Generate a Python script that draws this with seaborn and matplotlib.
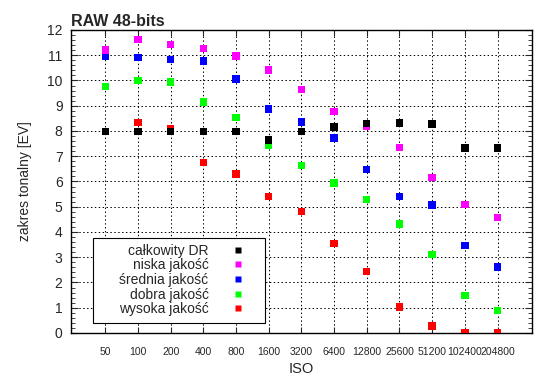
import pandas as pd
import seaborn as sns
import matplotlib.pyplot as plt
from matplotlib.ticker import MultipleLocator
from matplotlib.patches import Rectangle

# dane
iso = ['50', '100', '200', '400', '800', '1600', '3200', '6400',
       '12800', '25600', '51200', '102400', '204800']
calkowity = [7.97, 7.97, 7.97, 7.97, 7.97, 7.64, 7.97, 8.16, 8.30, 8.32, 8.28, 7.33, 7.33]
niska = [11.20, 11.63, 11.42, 11.26, 10.97, 10.42, 9.65, 8.77, 8.17, 7.34, 6.15, 5.10, 4.58]
srednia = [10.97, 10.92, 10.83, 10.77, 10.06, 8.87, 8.36, 7.72, 6.47, 5.41, 5.07, 3.47, 2.61]
dobra = [9.77, 10.01, 9.94, 9.15, 8.53, 7.42, 6.63, 5.94, 5.28, 4.32, 3.12, 1.48, 0.88]
wysoka = [7.97, 8.34, 8.10, 6.76, 6.30, 5.41, 4.82, 3.54, 2.43, 1.03, 0.28, 0.0, 0.0]

serie = {'całkowity DR': calkowity, 'niska jakość': niska, 'średnia jakość': srednia,
         'dobra jakość': dobra, 'wysoka jakość': wysoka}
kolory = {'całkowity DR': '#000000', 'niska jakość': '#ff00ff', 'średnia jakość': '#0000ff',
          'dobra jakość': '#00ff00', 'wysoka jakość': '#ff0000'}

df = pd.concat([pd.DataFrame({'ISO': iso, 'EV': v, 'seria': k}) for k, v in serie.items()])
# rysujemy od tyłu, żeby czarne były na wierzchu
df_plot = pd.concat([df[df.seria == k] for k in reversed(list(serie))])

sns.set_style('ticks')
plt.rcParams['font.family'] = ['Liberation Sans', 'DejaVu Sans']

fig = plt.figure(figsize=(5.5, 3.89), dpi=100)
ax = fig.add_axes([0.129, 0.144, 0.838, 0.779])

sns.scatterplot(data=df_plot, x='ISO', y='EV', hue='seria', hue_order=list(serie),
                palette=kolory, marker='s', s=28, edgecolor='none', ax=ax, zorder=3)

ax.set_xlim(-1.05, 13.05)
ax.set_ylim(0, 12)
ax.yaxis.set_major_locator(MultipleLocator(1))
ax.yaxis.set_minor_locator(MultipleLocator(0.2))
ax.tick_params(axis='both', which='both', direction='in', top=True, right=True)
ax.tick_params(axis='y', which='major', length=5, labelsize=10, pad=6)
ax.tick_params(axis='y', which='minor', length=3)
ax.tick_params(axis='x', which='major', length=4, labelsize=7.5, pad=10)
ax.grid(True, color='black', linestyle=(0, (1.5, 2.5)), linewidth=0.7)
for s in ax.spines.values():
    s.set_linewidth(1)
    s.set_color('black')

ax.set_xlabel('ISO', fontsize=10.5, labelpad=4)
ax.set_ylabel('zakres tonalny [EV]', fontsize=10, labelpad=11)
ax.set_title('RAW 48-bits', loc='left', fontsize=11.5, fontweight='bold', pad=3)

# ramka legendy
ax.add_patch(Rectangle((0.048, 0.033), 0.373, 0.2815, transform=ax.transAxes,
                       facecolor='white', edgecolor='black', linewidth=0.8, zorder=4))
leg = ax.legend(loc='center right', bbox_to_anchor=(0.377, 0.175), markerfirst=False,
                fontsize=10, frameon=False, labelspacing=0.05, handletextpad=1.6,
                borderpad=0, borderaxespad=0, handlelength=1.0, markerscale=0.85)
leg.set_zorder(5)
# etykiety wyrównane do prawej
for kol in leg._legend_handle_box.get_children():
    kol.align = 'right'

plt.savefig('out.png', dpi=100)
